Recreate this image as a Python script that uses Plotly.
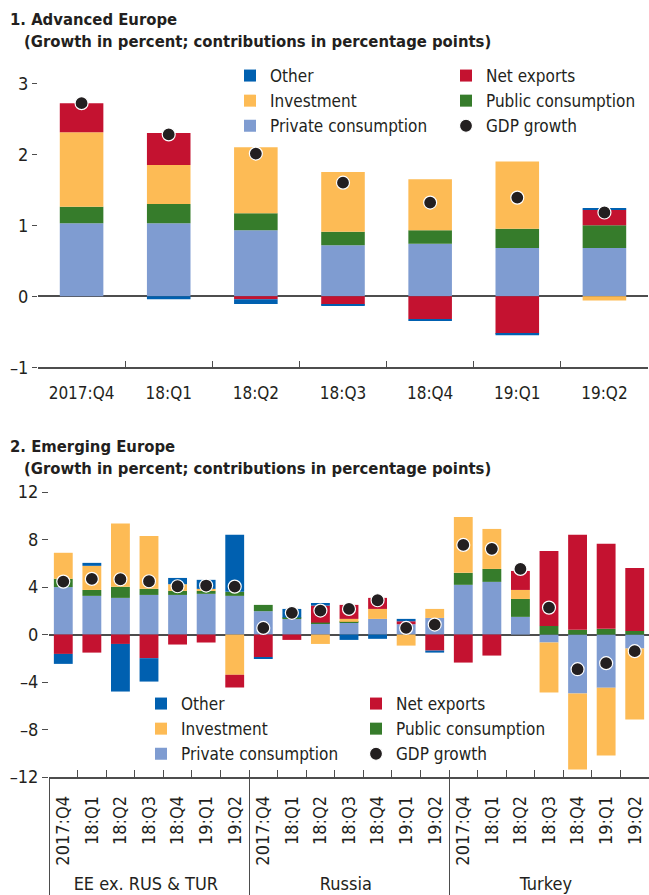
import plotly.graph_objects as go

# ---------------- data ----------------
adv_quarters = ["2017:Q4", "18:Q1", "18:Q2", "18:Q3", "18:Q4", "19:Q1", "19:Q2"]
adv_private = [1.03, 1.03, 0.93, 0.72, 0.74, 0.68, 0.68]
adv_public = [0.23, 0.27, 0.24, 0.19, 0.19, 0.27, 0.32]
adv_invest = [1.05, 0.55, 0.93, 0.84, 0.72, 0.95, -0.06]
adv_netexp = [0.41, 0.45, -0.04, -0.12, -0.32, -0.53, 0.22]
adv_other = [0.0, -0.04, -0.07, -0.01, -0.02, -0.02, 0.02]
adv_gdp = [2.72, 2.28, 2.01, 1.60, 1.32, 1.39, 1.18]

em_groups = ["EE ex. RUS & TUR"] * 7 + ["Russia"] * 7 + ["Turkey"] * 7
em_quarters = adv_quarters * 3
em_private = [4.00, 3.26, 3.09, 3.34, 3.34, 3.43, 3.26,
              1.97, 1.35, 0.93, 1.01, 1.32, 0.87, 1.40,
              4.19, 4.44, 1.49, -0.67, -4.97, -4.49, -1.18]
em_public = [0.70, 0.50, 0.93, 0.51, 0.34, 0.25, 0.34,
             0.53, 0.08, 0.08, 0.06, 0.00, 0.00, 0.00,
             1.01, 1.09, 1.51, 0.73, 0.40, 0.48, 0.31]
em_invest = [2.19, 2.03, 5.33, 4.46, 0.56, 0.17, -3.39,
             0.00, 0.00, -0.79, 0.25, 0.84, -0.93, 0.76,
             4.71, 3.37, 0.76, -4.21, -6.40, -5.70, -5.98]
em_netexp = [-1.63, -1.52, -0.79, -1.99, -0.84, -0.67, -1.07,
             -1.90, -0.45, 1.43, 1.18, 0.93, 0.25, -1.35,
             -2.36, -1.77, 1.60, 6.32, 8.00, 7.16, 5.30]
em_other = [-0.84, 0.25, -4.01, -1.97, 0.53, 0.76, 4.80,
            -0.15, 0.73, 0.22, -0.45, -0.36, 0.20, -0.17,
            0.0, 0.0, 0.0, 0.0, 0.0, 0.0, 0.0]
em_gdp = [4.46, 4.69, 4.66, 4.49, 4.07, 4.13, 4.04,
          0.56, 1.83, 2.02, 2.16, 2.89, 0.56, 0.84,
          7.55, 7.22, 5.53, 2.27, -2.92, -2.41, -1.40]

adv_ticks = [-1, 0, 1, 2, 3]
adv_ticktext = ["\u20131", "0", "1", "2", "3"]
em_ticks = [-12, -8, -4, 0, 4, 8, 12]
em_ticktext = ["\u201312", "\u20138", "\u20134", "0", "4", "8", "12"]

# ---------------- styles ----------------
FONT = "Liberation Sans Narrow, Arial Narrow, DejaVu Sans Condensed, sans-serif"
TXT = "#231f20"
AX = "#4d4d4d"
C = {
    "Private consumption": "#7f9cd1",
    "Public consumption": "#367c2b",
    "Investment": "#fdbb55",
    "Net exports": "#c41230",
    "Other": "#0060b0",
}
# stacking order (bottom -> top) and legend placement
stack = ["Private consumption", "Public consumption", "Investment", "Net exports", "Other"]
col1 = {"Other": 1, "Investment": 2, "Private consumption": 3}
col2 = {"Net exports": 1, "Public consumption": 2}

fig = go.Figure()

adv_vals = {"Private consumption": adv_private, "Public consumption": adv_public,
            "Investment": adv_invest, "Net exports": adv_netexp, "Other": adv_other}
em_vals = {"Private consumption": em_private, "Public consumption": em_public,
           "Investment": em_invest, "Net exports": em_netexp, "Other": em_other}
em_x = [em_groups, em_quarters]

for name in stack:
    lg_top = "legend" if name in col1 else "legend2"
    lg_bot = "legend3" if name in col1 else "legend4"
    rank = col1.get(name, col2.get(name))
    fig.add_trace(go.Bar(x=adv_quarters, y=adv_vals[name], name=name,
                         marker=dict(color=C[name], line=dict(width=0)),
                         width=0.5, xaxis="x", yaxis="y",
                         legend=lg_top, legendrank=rank))
    fig.add_trace(go.Bar(x=em_x, y=em_vals[name], name=name,
                         marker=dict(color=C[name], line=dict(width=0)),
                         width=0.66, xaxis="x2", yaxis="y2",
                         legend=lg_bot, legendrank=rank))

fig.add_trace(go.Scatter(x=adv_quarters, y=adv_gdp, name="GDP growth", mode="markers",
                         marker=dict(color=TXT, size=13, line=dict(color="white", width=1.2)),
                         xaxis="x", yaxis="y", legend="legend2", legendrank=3))
fig.add_trace(go.Scatter(x=em_x, y=em_gdp, name="GDP growth", mode="markers",
                         marker=dict(color=TXT, size=13, line=dict(color="white", width=1.2)),
                         xaxis="x2", yaxis="y2", legend="legend4", legendrank=3))

H = 895.0
W = 649.0


def py(px):
    return 1 - px / H


legend_common = dict(font=dict(family=FONT, size=17, color=TXT), bgcolor="rgba(0,0,0,0)",
                     orientation="v", xanchor="left", yanchor="top", itemclick=False,
                     tracegroupgap=0, traceorder="normal")

fig.update_layout(
    width=649, height=895,
    margin=dict(l=0, r=0, t=0, b=0, autoexpand=False),
    paper_bgcolor="white", plot_bgcolor="white",
    font=dict(family=FONT, size=17, color=TXT),
    barmode="relative",
    showlegend=True,
    legend=dict(x=230 / W, y=py(58), **legend_common),
    legend2=dict(x=446 / W, y=py(58), **legend_common),
    legend3=dict(x=141 / W, y=py(686), **legend_common),
    legend4=dict(x=356 / W, y=py(686), **legend_common),
    xaxis=dict(domain=[38 / W, 648 / W], anchor="y", type="category", automargin=False,
               range=[-0.5, 6.5],
               showline=True, linecolor=AX, linewidth=1.5,
               ticks="inside", tickson="boundaries", ticklen=7, tickcolor=AX, tickwidth=1.2,
               showgrid=False, zeroline=False, ticklabelstandoff=10,
               tickfont=dict(family=FONT, size=17, color=TXT)),
    yaxis=dict(domain=[py(367.3), py(62)], anchor="x", range=[-1, 3.3], automargin=False,
               tickvals=adv_ticks, ticktext=adv_ticktext,
               ticks="outside", ticklen=5, tickcolor=AX, tickwidth=1.2,
               showline=False, showgrid=False,
               zeroline=True, zerolinecolor=AX, zerolinewidth=1.5,
               ticklabelstandoff=0,
               tickfont=dict(family=FONT, size=18, color=TXT)),
    xaxis2=dict(domain=[49 / W, 1.0], anchor="y2", type="multicategory", automargin=False,
                range=[-0.5, 20.5],
                showline=True, linecolor=AX, linewidth=1.5,
                ticks="inside", tickson="boundaries", ticklen=7, tickcolor=AX, tickwidth=1.2,
                showgrid=False, zeroline=False, tickangle=-90, ticklabelstandoff=10,
                showdividers=True, dividercolor=AX, dividerwidth=1.2,
                tickfont=dict(family=FONT, size=18, color=TXT)),
    yaxis2=dict(domain=[py(777), py(485)], anchor="x2", range=[-12, 12.6], automargin=False,
                tickvals=em_ticks, ticktext=em_ticktext,
                ticks="outside", ticklen=6, tickcolor=AX, tickwidth=1.2,
                showline=False, showgrid=False,
                zeroline=True, zerolinecolor=AX, zerolinewidth=1.5,
                ticklabelstandoff=0,
                tickfont=dict(family=FONT, size=18, color=TXT)),
    annotations=[
        dict(text="<b>1. Advanced Europe</b>", x=8 / W, y=py(20), xref="paper", yref="paper",
             xanchor="left", yanchor="middle", showarrow=False,
             font=dict(family=FONT, size=16.5, color=TXT)),
        dict(text="<b>(Growth in percent; contributions in percentage points)</b>", x=22 / W,
             y=py(42), xref="paper", yref="paper", xanchor="left", yanchor="middle",
             showarrow=False, font=dict(family=FONT, size=16.5, color=TXT)),
        dict(text="<b>2. Emerging Europe</b>", x=8 / W, y=py(446), xref="paper", yref="paper",
             xanchor="left", yanchor="middle", showarrow=False,
             font=dict(family=FONT, size=16.5, color=TXT)),
        dict(text="<b>(Growth in percent; contributions in percentage points)</b>", x=22 / W,
             y=py(469), xref="paper", yref="paper", xanchor="left", yanchor="middle",
             showarrow=False, font=dict(family=FONT, size=16.5, color=TXT)),
    ],
)

fig.write_html("out.html", config={"displayModeBar": False},
               post_script="document.body.style.margin='0';document.body.style.overflow='hidden';")
